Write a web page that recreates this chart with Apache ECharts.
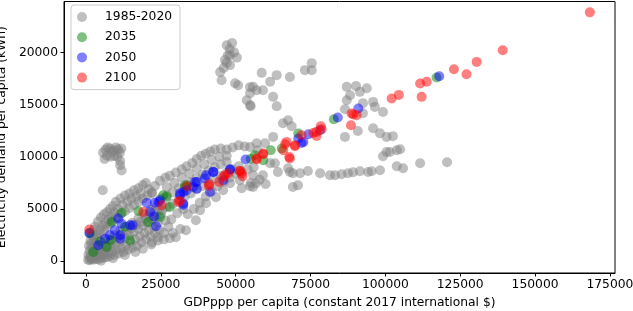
<!DOCTYPE html>
<html><head><meta charset="utf-8">
<script src="https://cdn.jsdelivr.net/npm/echarts@6/dist/echarts.min.js"></script>
<style>html,body{margin:0;padding:0;background:#fff}#c{width:633px;height:311px}</style>
</head><body><div id="c"></div>
<script>
const seriesNames = ['1985-2020','2035','2050','2100'];
const xTicks = [0,25000,50000,75000,100000,125000,150000,175000];
const yTicks = [0,5000,10000,15000,20000];

const hist = [
 [700,150],[1200,100],[1800,200],[2500,150],[3200,250],[4000,200],[5000,300],[6000,350],[7000,400],[8000,500],[9500,600],[11000,750],[12500,900],[14000,1100],[15500,1300],[17000,1500],[18500,1800],[20000,2100],[21500,2400],[23000,2700],[24500,3000],
 [800,600],[1500,500],[2200,800],[3000,700],[4000,900],[5000,1100],[6000,1000],[7000,1300],[8500,1400],[10000,1600],[11500,1900],[13000,2200],[14500,2500],[16000,2800],[17500,3100],[19000,3400],[20500,3700],[22000,4000],[23500,4300],[25000,4500],
 [1000,1500],[1500,2000],[2000,2500],[2500,3000],[3000,3300],[4000,3800],[5000,4200],[6000,4500],[7000,4700],[8000,5000],[9000,5300],[10000,5700],[11500,6000],[13000,6300],[14500,6500],[16000,6800],[17500,7000],[19000,7300],[20000,7500],
 [2000,1300],[3000,1800],[4000,2200],[5000,2600],[6000,3000],[7000,3300],[8000,3600],[9000,3900],[10000,4200],[11500,4500],[13000,4800],[14500,5100],[16000,5400],[17500,5700],[19000,6000],[20500,6300],[22000,6500],
 [3500,1200],[5500,1700],[7500,2100],[9500,2500],[11500,2900],[13500,3300],[15500,3700],[17500,4100],[19500,4500],[21500,4900],[23500,5200],
 [1500,300],[2300,400],[3100,500],[3900,600],[4700,700],[5500,600],[6500,700],[7500,800],[8700,900],[10200,1100],[11800,1300],[13300,1500],[14900,1800],[16400,2100],[18000,2400],[19500,2700],[21000,3000],[22500,3300],[24000,3700],
 [1200,1000],[2600,1100],[3600,1500],[4500,1500],[6500,1500],[7800,1700],[9200,2000],[10700,2300],[12200,2600],[13800,2900],[15200,3200],[16800,3500],[18300,3800],[19800,4100],[21200,4300],[22800,4700],[24300,5000],
 [1700,1700],[2700,2100],[3500,2500],[4500,3000],[5500,3400],[6500,3700],[7500,4000],[8500,4300],[9500,4700],[10700,5000],[12200,5400],[13800,5700],[15200,6000],[16800,6200],[18300,6500],[21000,6900],[23000,7200],
 [5000,50],[9000,300],[13000,600],[16500,900],[19000,1200],[21800,1600],[24000,2300],[26000,2700],[27500,3300],[26500,3900],[25500,4900],
 [22000,6600],[24700,7700],[26500,8000],[28000,8200],[30000,8500],[32000,8800],[33600,9100],[35500,9400],[37000,9800],[38500,10100],[40000,10300],[41500,10500],[43000,10700],[45000,10800],[47000,10700],[49000,10900],[51000,11100],[53000,11000],
 [25000,6000],[27000,6300],[29000,6600],[31000,7000],[33000,7300],[35000,7600],[37000,8000],[39000,8300],[41000,8700],[43000,9000],[45000,9300],[47000,9500],
 [27000,7100],[29500,7500],[32000,8000],[34500,8400],[37000,8900],[39500,9300],[42000,9700],[44500,10000],[47000,10100],
 [27000,5200],[29000,5500],[31000,5900],[33000,6200],[35000,6500],[37000,6900],[39000,7200],[41000,7500],[43000,7900],[45000,8200],[47000,8500],[49000,8800],[51000,9100],
 [22000,1800],[24000,2000],[26000,2100],[28000,2200],[30000,2300],[33400,2970],[36700,3930],[38100,4890],[40100,5560],[43400,6130],[45800,6800],[48100,7470],[51400,7760],[54800,7180],[56800,7470],
 [34000,4500],[36000,5000],[38000,5600],[40000,6200],[42000,6700],[44000,7200],[46000,7600],[48000,8000],[50000,8400],[52000,8600],[54000,8800],[56000,9000],
 [52000,7000],[55000,7500],[58000,7800],[60000,7400],[29000,2700],[31500,3100],[28500,4000],[30500,4600],[32500,5000],
 [5700,10400],[6500,10700],[7200,10900],[8000,10800],[8600,10500],[9300,10600],[10000,10900],[10700,10700],[11300,10400],[7000,10100],[8200,10000],[9500,10100],[10500,10000],[11800,10800],[6200,9800],[11400,9600],[11400,9200],[11900,8700],[5600,6800],
 [47000,20690],[47400,19730],[46400,19260],[48100,18780],[44800,18110],[45300,17340],[49800,17050],[50800,16860],[54800,16670],[53700,15420],[55000,14850],[54800,16090],[57000,16380],[48100,19730],
 [48800,20900],[48000,20300],[49500,20000],[50400,19500],[47000,19000],[46000,18500],
 [58700,18040],[63700,17820],[61500,17180],[55800,16700],[59100,16380],[68100,17650],[73100,18300],[75400,18970],[75400,18300],[62500,15740],[63700,14850],[54800,14950],
 [65800,13220],[67500,13510],[68700,12930],[62500,11910],[57000,11300],[59800,11300],[54800,10950],[57400,10630],
 [87100,16700],[90200,16770],[93800,16570],[91500,16220],[88200,15900],[87100,15420],[86500,14560],[95900,15260],[96500,14780],[92500,15140],[99200,14300],[92500,14180],
 [95900,12740],[98200,12260],[100400,11910],[102500,11980],[86500,11910],[90800,12480],[103800,10630],[104900,10730],[100400,10470],[99200,10060],[101500,10470],
 [78200,8430],[81500,8240],[83200,8240],[85400,8330],[87500,8430],[89200,8530],[91500,8620],[94200,8550],[95400,8620],[98200,8720],[103800,9100],[105900,8910],[111600,9390],[120600,9480],
 [68100,8550],[69100,8430],[71500,8430],[74100,8650],[69100,7120],[70800,7280],[64100,8550],[59100,8240],[55800,8240],[55800,7120],[61500,9390],[63100,9390],[67500,8910]
];
const y2035 = [
 [117100,17600],[82800,13600],[70900,12230],[61700,10630],[65400,10800],[59200,9680],[56400,10150],[26900,6160],[24700,4240],[33600,7280],[25800,6320],
 [1300,2700],[2440,890],[4700,1900],[6900,1370],[8300,2050],[8600,3770],[13000,3300],[14700,2010],[11900,4630],[17500,4820],[20800,3770],[28000,5200],[33000,7100],[55000,9800]
];
const y2050 = [
 [118000,17720],[90950,14630],[84100,13770],[78200,12550],[74300,12170],[72600,11430],[70900,11750],[72000,11330],[53300,9740],[48100,8780],[42500,8560],[39700,7920],[41400,6640],[37000,7600],[35800,7120],[32500,6640],[31400,6500],[24700,5840],[32500,5530],[23000,5600],[22800,4300],
 [1100,2710],[4100,1530],[6350,2170],[8000,2500],[9700,2970],[11400,2490],[11400,2170],[10800,4090],[11900,3600],[14700,3450],[15600,3450],[20300,5590],[21400,4720],[23400,3350],[24200,5680],[32500,5400],[31400,6300],[33600,6800],[36400,7600],[37000,6960],[40100,8240],[42500,8560],[45900,7760],[48100,8780]
];
const y2100 = [
 [168300,23830],[139200,20210],[130500,19090],[122900,18390],[127100,17910],[113800,17180],[111600,17020],[112100,15740],[102100,15590],[104500,15930],
 [89300,14050],[88700,14150],[90400,13990],[88500,13030],[78400,12930],[77000,12390],[75900,12290],[78700,12650],[72000,12070],[77000,12000],
 [67000,11430],[69800,11020],[65900,10630],[67900,9990],[59200,10320],[57000,9840],[66500,11200],[68100,9840],[59200,10250],[69800,11110],
 [51400,8650],[52300,8140],[46400,8240],[44500,7600],[41200,7380],[33800,7190],[25300,5360],[31400,5780],[19100,4720],[30800,5680],[45900,8080],[47500,8400],[51400,8650],[52000,8400],[57000,9740],[1100,3040],[41000,7200]
];

function sc(name, data, color) {
  return {name, type:'scatter', data, symbol:'circle', symbolSize:10,
    itemStyle:{color, opacity:0.5}, emphasis:{disabled:true}};
}
const chart = echarts.init(document.getElementById('c'), null, {renderer:'canvas'});
const font = 'DejaVu Sans';
const fmt = v => String(v);
chart.setOption({
  animation:false,
  backgroundColor:'#fff',
  grid:{left:64, right:18, top:1.5, bottom:38, containLabel:false, outerBoundsMode:'none',
    show:true, borderColor:'#000', borderWidth:1, backgroundColor:'transparent'},
  legend:{left:71, top:5, orient:'vertical', itemWidth:20, itemHeight:10, itemGap:8.2,
    padding:[6,8,6,6], borderColor:'#cccccc', borderWidth:1, borderRadius:3, backgroundColor:'rgba(255,255,255,0.8)',
    textStyle:{fontFamily:font, fontSize:12.3, color:'#000', padding:[0,0,0,8]}, data:seriesNames},
  xAxis:{type:'value', min:-7350, max:176700,
    name:'GDPppp per capita (constant 2017 international $)', nameLocation:'middle', nameGap:24,
    nameTextStyle:{fontFamily:font, fontSize:12.3, color:'#000'},
    axisLine:{show:true, onZero:false, lineStyle:{color:'#000', width:1}},
    axisTick:{show:true, length:3.5, customValues:xTicks, lineStyle:{color:'#000'}},
    axisLabel:{customValues:xTicks, formatter:fmt, fontFamily:font, fontSize:12.3, color:'#000', margin:6},
    splitLine:{show:false}},
  yAxis:{type:'value', min:-1120, max:24870,
    name:'Electricity demand per capita (kWh)', nameLocation:'middle', nameGap:46,
    nameTextStyle:{fontFamily:font, fontSize:12.3, color:'#000'},
    axisLine:{show:true, onZero:false, lineStyle:{color:'#000', width:1}},
    axisTick:{show:true, length:3.5, customValues:yTicks, lineStyle:{color:'#000'}},
    axisLabel:{customValues:yTicks, formatter:fmt, fontFamily:font, fontSize:12.3, color:'#000', margin:6},
    splitLine:{show:false}},
  series:[sc(seriesNames[0], hist, '#808080'), sc(seriesNames[1], y2035, '#008000'), sc(seriesNames[2], y2050, '#0000ff'), sc(seriesNames[3], y2100, '#ff0000')]
});
</script></body></html>
